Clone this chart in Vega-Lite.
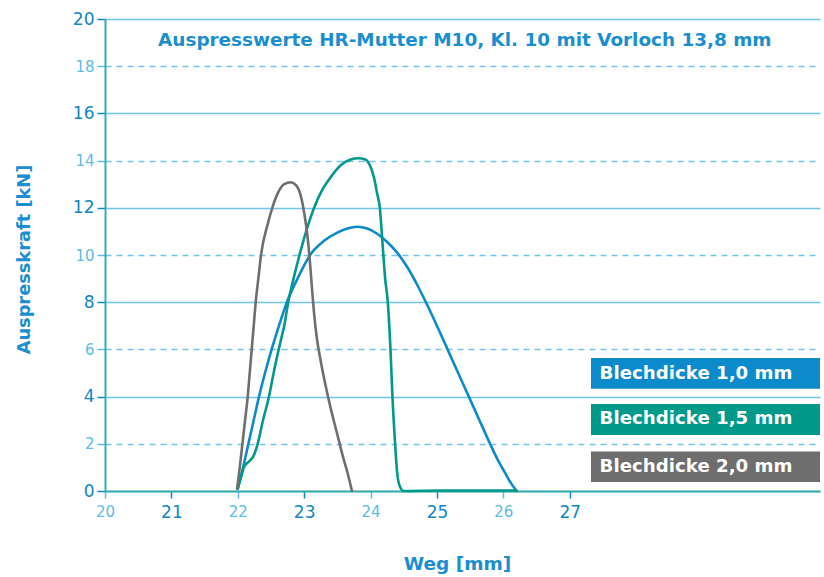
{
  "$schema": "https://vega.github.io/schema/vega-lite/v6.json",
  "width": 715,
  "height": 472,
  "autosize": {"type": "none"},
  "padding": {"left": 105, "top": 19, "right": 4, "bottom": 86},
  "background": "white",
  "config": {"view": {"stroke": null}, "font": "DejaVu Sans"},
  "datasets": {
    "curves": [
      {"series": "1,0 mm", "x": 22.0, "y": 0.1},
      {"series": "1,0 mm", "x": 22.08, "y": 1.0},
      {"series": "1,0 mm", "x": 22.16, "y": 2.0},
      {"series": "1,0 mm", "x": 22.24, "y": 3.0},
      {"series": "1,0 mm", "x": 22.32, "y": 4.0},
      {"series": "1,0 mm", "x": 22.41, "y": 5.0},
      {"series": "1,0 mm", "x": 22.51, "y": 6.0},
      {"series": "1,0 mm", "x": 22.62, "y": 7.0},
      {"series": "1,0 mm", "x": 22.74, "y": 8.0},
      {"series": "1,0 mm", "x": 22.9, "y": 9.0},
      {"series": "1,0 mm", "x": 23.09, "y": 10.0},
      {"series": "1,0 mm", "x": 23.3, "y": 10.6},
      {"series": "1,0 mm", "x": 23.5, "y": 10.95},
      {"series": "1,0 mm", "x": 23.65, "y": 11.12},
      {"series": "1,0 mm", "x": 23.8, "y": 11.2},
      {"series": "1,0 mm", "x": 23.95, "y": 11.12},
      {"series": "1,0 mm", "x": 24.1, "y": 10.9},
      {"series": "1,0 mm", "x": 24.25, "y": 10.55},
      {"series": "1,0 mm", "x": 24.4, "y": 10.1},
      {"series": "1,0 mm", "x": 24.55, "y": 9.5},
      {"series": "1,0 mm", "x": 24.7, "y": 8.75},
      {"series": "1,0 mm", "x": 24.85, "y": 7.9},
      {"series": "1,0 mm", "x": 25.0, "y": 7.0},
      {"series": "1,0 mm", "x": 25.16, "y": 6.0},
      {"series": "1,0 mm", "x": 25.32, "y": 5.0},
      {"series": "1,0 mm", "x": 25.48, "y": 4.0},
      {"series": "1,0 mm", "x": 25.64, "y": 3.0},
      {"series": "1,0 mm", "x": 25.8, "y": 2.0},
      {"series": "1,0 mm", "x": 25.92, "y": 1.3},
      {"series": "1,0 mm", "x": 26.02, "y": 0.8},
      {"series": "1,0 mm", "x": 26.1, "y": 0.4},
      {"series": "1,0 mm", "x": 26.2, "y": 0.0},
      {"series": "1,5 mm", "x": 22.0, "y": 0.1},
      {"series": "1,5 mm", "x": 22.05, "y": 0.6},
      {"series": "1,5 mm", "x": 22.1, "y": 1.05},
      {"series": "1,5 mm", "x": 22.17, "y": 1.25},
      {"series": "1,5 mm", "x": 22.24, "y": 1.5},
      {"series": "1,5 mm", "x": 22.3, "y": 2.0},
      {"series": "1,5 mm", "x": 22.38, "y": 3.0},
      {"series": "1,5 mm", "x": 22.47, "y": 4.0},
      {"series": "1,5 mm", "x": 22.54, "y": 5.0},
      {"series": "1,5 mm", "x": 22.6, "y": 5.8},
      {"series": "1,5 mm", "x": 22.65, "y": 6.4},
      {"series": "1,5 mm", "x": 22.7, "y": 7.0},
      {"series": "1,5 mm", "x": 22.76, "y": 8.0},
      {"series": "1,5 mm", "x": 22.84, "y": 9.0},
      {"series": "1,5 mm", "x": 22.93, "y": 10.0},
      {"series": "1,5 mm", "x": 23.03, "y": 11.0},
      {"series": "1,5 mm", "x": 23.15, "y": 12.0},
      {"series": "1,5 mm", "x": 23.28, "y": 12.8},
      {"series": "1,5 mm", "x": 23.4, "y": 13.3},
      {"series": "1,5 mm", "x": 23.55, "y": 13.8},
      {"series": "1,5 mm", "x": 23.7, "y": 14.05},
      {"series": "1,5 mm", "x": 23.82, "y": 14.1},
      {"series": "1,5 mm", "x": 23.92, "y": 14.05},
      {"series": "1,5 mm", "x": 23.99, "y": 13.8},
      {"series": "1,5 mm", "x": 24.05, "y": 13.3},
      {"series": "1,5 mm", "x": 24.1, "y": 12.6},
      {"series": "1,5 mm", "x": 24.14, "y": 12.0},
      {"series": "1,5 mm", "x": 24.18, "y": 10.5},
      {"series": "1,5 mm", "x": 24.22, "y": 9.0},
      {"series": "1,5 mm", "x": 24.26, "y": 8.0},
      {"series": "1,5 mm", "x": 24.3, "y": 6.0},
      {"series": "1,5 mm", "x": 24.33, "y": 4.0},
      {"series": "1,5 mm", "x": 24.37, "y": 2.0},
      {"series": "1,5 mm", "x": 24.4, "y": 0.8},
      {"series": "1,5 mm", "x": 24.44, "y": 0.2},
      {"series": "1,5 mm", "x": 24.5, "y": 0.0},
      {"series": "1,5 mm", "x": 25.0, "y": 0.02},
      {"series": "1,5 mm", "x": 26.2, "y": 0.02},
      {"series": "2,0 mm", "x": 21.99, "y": 0.1},
      {"series": "2,0 mm", "x": 22.03, "y": 1.0},
      {"series": "2,0 mm", "x": 22.07, "y": 2.0},
      {"series": "2,0 mm", "x": 22.11, "y": 3.0},
      {"series": "2,0 mm", "x": 22.15, "y": 4.0},
      {"series": "2,0 mm", "x": 22.18, "y": 5.0},
      {"series": "2,0 mm", "x": 22.21, "y": 6.0},
      {"series": "2,0 mm", "x": 22.24, "y": 7.0},
      {"series": "2,0 mm", "x": 22.27, "y": 8.0},
      {"series": "2,0 mm", "x": 22.31, "y": 9.0},
      {"series": "2,0 mm", "x": 22.35, "y": 10.0},
      {"series": "2,0 mm", "x": 22.45, "y": 11.3},
      {"series": "2,0 mm", "x": 22.52, "y": 12.0},
      {"series": "2,0 mm", "x": 22.6, "y": 12.6},
      {"series": "2,0 mm", "x": 22.7, "y": 13.0},
      {"series": "2,0 mm", "x": 22.8, "y": 13.08},
      {"series": "2,0 mm", "x": 22.88, "y": 12.95},
      {"series": "2,0 mm", "x": 22.95, "y": 12.5},
      {"series": "2,0 mm", "x": 23.0, "y": 11.8},
      {"series": "2,0 mm", "x": 23.05, "y": 10.8},
      {"series": "2,0 mm", "x": 23.09, "y": 9.6},
      {"series": "2,0 mm", "x": 23.12, "y": 8.5},
      {"series": "2,0 mm", "x": 23.15, "y": 7.5},
      {"series": "2,0 mm", "x": 23.19, "y": 6.5},
      {"series": "2,0 mm", "x": 23.25, "y": 5.5},
      {"series": "2,0 mm", "x": 23.32, "y": 4.5},
      {"series": "2,0 mm", "x": 23.4, "y": 3.5},
      {"series": "2,0 mm", "x": 23.49, "y": 2.5},
      {"series": "2,0 mm", "x": 23.58, "y": 1.5},
      {"series": "2,0 mm", "x": 23.66, "y": 0.7},
      {"series": "2,0 mm", "x": 23.72, "y": 0.0}
    ]
  },
  "layer": [
    {
      "data": {"name": "curves"},
      "mark": {"type": "line", "interpolate": "monotone", "strokeWidth": 2.6, "strokeCap": "round", "strokeJoin": "round"},
      "encoding": {
        "x": {
          "field": "x", "type": "quantitative",
          "scale": {"domain": [20, 30.77], "nice": false, "zero": false},
          "axis": {
            "values": [20, 21, 22, 23, 24, 25, 26, 27],
            "format": "d",
            "title": "Weg [mm]",
            "grid": false,
            "domainColor": "#3aabab", "domainWidth": 2,
            "tickSize": 7, "tickWidth": 1.5,
            "tickColor": {"condition": {"test": "datum.value % 2 === 1", "value": "#0f86c6"}, "value": "#5bbce6"},
            "labelColor": {"condition": {"test": "datum.value % 2 === 1", "value": "#0f86c6"}, "value": "#5bbce6"},
            "labelFontSize": {"condition": {"test": "datum.value % 2 === 1", "value": 17}, "value": 15},
            "labelPadding": 6,
            "labelFlush": false,
            "titleFontSize": 18.5, "titleFontWeight": "bold", "titleColor": "#1a8ed0",
            "titleX": 352, "titleY": 72, "titleBaseline": "middle"
          }
        },
        "y": {
          "field": "y", "type": "quantitative",
          "scale": {"domain": [0, 20], "nice": false},
          "axis": {
            "values": [0, 2, 4, 6, 8, 10, 12, 14, 16, 18, 20],
            "format": "d",
            "title": "Auspresskraft [kN]",
            "grid": true, "gridColor": "#72c5ea", "gridWidth": 1.5,
            "gridDash": {"condition": {"test": "datum.value % 4 === 2", "value": [6, 5]}, "value": []},
            "domainColor": "#3aabab", "domainWidth": 2,
            "tickSize": 8, "tickWidth": 1.5,
            "tickColor": {"condition": {"test": "datum.value % 4 === 0", "value": "#0f86c6"}, "value": "#5bbce6"},
            "labelColor": {"condition": {"test": "datum.value % 4 === 0", "value": "#0f86c6"}, "value": "#5bbce6"},
            "labelFontSize": {"condition": {"test": "datum.value % 4 === 0", "value": 17}, "value": 15},
            "labelPadding": 3,
            "labelFlush": false,
            "titleFontSize": 17.8, "titleFontWeight": "bold", "titleColor": "#1a8ed0",
            "titleX": -81, "titleY": 240, "titleBaseline": "middle"
          }
        },
        "color": {
          "field": "series", "type": "nominal",
          "scale": {"domain": ["1,0 mm", "1,5 mm", "2,0 mm"], "range": ["#0b8bcb", "#00998a", "#6e6e6e"]},
          "legend": null
        }
      }
    },
    {
      "data": {"values": [{}]},
      "mark": {"type": "text", "text": "Auspresswerte HR-Mutter M10, Kl. 10 mit Vorloch 13,8 mm", "fontSize": 18.4, "fontWeight": "bold", "color": "#1a8ed0", "align": "center", "baseline": "middle"},
      "encoding": {"x": {"datum": 25.42}, "y": {"datum": 19.1}}
    },
    {
      "data": {"values": [{}]},
      "mark": {"type": "rect", "color": "#0b8bcb"},
      "encoding": {"x": {"datum": 27.32}, "x2": {"datum": 30.77}, "y": {"datum": 5.64}, "y2": {"datum": 4.33}}
    },
    {
      "data": {"values": [{}]},
      "mark": {"type": "rect", "color": "#00998a"},
      "encoding": {"x": {"datum": 27.32}, "x2": {"datum": 30.77}, "y": {"datum": 3.69}, "y2": {"datum": 2.37}}
    },
    {
      "data": {"values": [{}]},
      "mark": {"type": "rect", "color": "#6e6e6e"},
      "encoding": {"x": {"datum": 27.32}, "x2": {"datum": 30.77}, "y": {"datum": 1.67}, "y2": {"datum": 0.38}}
    },
    {
      "data": {"values": [{}]},
      "mark": {"type": "text", "text": "Blechdicke 1,0 mm", "fontSize": 18.2, "fontWeight": "bold", "color": "white", "align": "left", "baseline": "middle"},
      "encoding": {"x": {"datum": 27.45}, "y": {"datum": 4.97}}
    },
    {
      "data": {"values": [{}]},
      "mark": {"type": "text", "text": "Blechdicke 1,5 mm", "fontSize": 18.2, "fontWeight": "bold", "color": "white", "align": "left", "baseline": "middle"},
      "encoding": {"x": {"datum": 27.45}, "y": {"datum": 3.03}}
    },
    {
      "data": {"values": [{}]},
      "mark": {"type": "text", "text": "Blechdicke 2,0 mm", "fontSize": 18.2, "fontWeight": "bold", "color": "white", "align": "left", "baseline": "middle"},
      "encoding": {"x": {"datum": 27.45}, "y": {"datum": 1.02}}
    }
  ]
}
